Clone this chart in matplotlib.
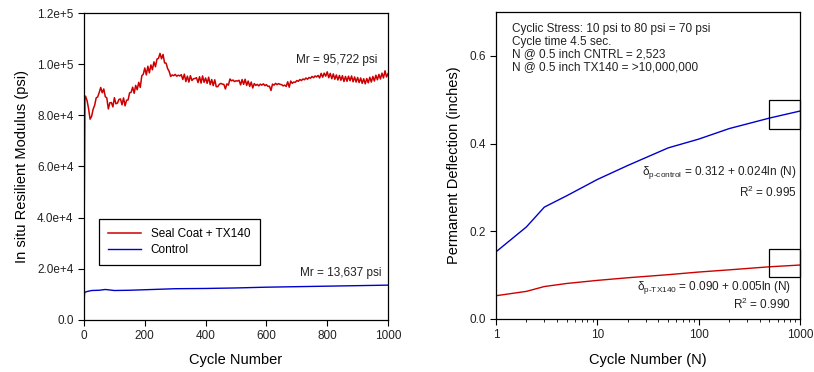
import numpy as np
import matplotlib
matplotlib.use("Agg")
import matplotlib.pyplot as plt
from matplotlib.patches import Rectangle

plt.rcParams['font.family'] = ['Liberation Sans', 'DejaVu Sans']
plt.rcParams['mathtext.fontset'] = 'custom'
plt.rcParams['mathtext.rm'] = 'Liberation Sans'
plt.rcParams['mathtext.it'] = 'Liberation Sans:italic'

# ---------------- Left panel data ----------------
red_start_cycles = [0, 1, 2, 3]
red_start_values = [33.0, 48.0, 70.0, 86.0]  # x1000 psi
red_step = 5
red_values = [  # x1000 psi, cycles 5, 10, ..., 1000
    87.5, 85.8, 82.6, 78.5, 79.6, 82.4, 83.9, 86.8, 87.2, 88.9,
    90.9, 88.8, 90.3, 87.3, 86.8, 82.5, 84.9, 85.0, 83.3, 86.9,
    84.5, 84.8, 86.2, 86.4, 84.1, 86.8, 83.7, 85.9, 86.0, 88.8,
    89.0, 91.0, 88.6, 91.7, 90.0, 92.9, 90.9, 95.4, 96.1, 98.5,
    95.8, 99.2, 96.6, 99.7, 97.8, 100.9, 99.0, 102.0, 102.3, 104.2,
    102.1, 103.8, 100.5, 100.4, 98.3, 97.2, 95.2, 95.8, 95.5, 96.0,
    95.3, 95.7, 95.4, 95.9, 94.0, 96.1, 93.2, 95.3, 93.0, 95.5,
    93.6, 94.3, 94.4, 94.7, 92.8, 95.1, 92.6, 95.4, 92.9, 94.6,
    92.5, 94.9, 92.0, 94.0, 91.6, 93.9, 91.2, 91.2, 92.1, 92.5,
    92.2, 92.1, 90.3, 92.3, 91.8, 94.2, 93.5, 93.8, 93.2, 93.5,
    93.4, 93.7, 91.9, 94.0, 92.1, 94.1, 91.7, 93.4, 91.3, 93.0,
    90.7, 92.4, 91.7, 92.1, 91.5, 92.2, 91.8, 92.3, 91.6, 92.0,
    91.3, 91.4, 89.7, 92.2, 91.8, 92.5, 92.0, 92.4, 92.1, 92.0,
    91.5, 91.8, 91.3, 93.1, 91.0, 93.4, 92.5, 93.0, 92.9, 93.6,
    93.3, 94.0, 93.6, 94.2, 93.9, 94.6, 94.1, 94.8, 94.5, 95.2,
    94.7, 95.4, 95.0, 95.6, 94.6, 96.4, 94.9, 96.5, 95.3, 97.0,
    94.7, 96.4, 94.3, 96.2, 94.1, 95.8, 93.8, 95.6, 93.7, 95.5,
    93.2, 95.2, 93.3, 95.3, 93.5, 95.4, 93.1, 95.0, 93.0, 94.8,
    92.8, 94.6, 92.5, 94.3, 92.3, 94.4, 92.7, 94.9, 93.0, 95.2,
    93.4, 95.7, 93.9, 96.0, 94.2, 96.5, 94.6, 97.4, 95.0, 96.3,
]
blue_cycles = [0, 2, 10, 25, 50, 70, 100, 150, 200, 300, 400, 500, 600, 700, 800, 900, 1000]
blue_values = [6.5, 10.8, 11.1, 11.5, 11.6, 11.9, 11.5, 11.6, 11.8, 12.2, 12.3, 12.5, 12.8, 13.0, 13.2, 13.4, 13.6]
left_xticks = [0, 200, 400, 600, 800, 1000]
left_yticks = [0, 20000, 40000, 60000, 80000, 100000, 120000]
left_yticklabels = ['0.0', '2.0e+4', '4.0e+4', '6.0e+4', '8.0e+4', '1.0e+5', '1.2e+5']

# ---------------- Right panel data ----------------
N_cycles = [1, 2, 3, 5, 10, 20, 50, 100, 200, 500, 1000]
defl_control = [0.153, 0.210, 0.255, 0.281, 0.318, 0.350, 0.390, 0.410, 0.434, 0.458, 0.474]
defl_tx140 = [0.053, 0.063, 0.074, 0.081, 0.088, 0.094, 0.101, 0.107, 0.112, 0.119, 0.123]
right_yticks = [0.0, 0.2, 0.4, 0.6]

RED = '#cc0000'
BLUE = '#0000cc'
TXT = '#222222'

fig = plt.figure(figsize=(8.14, 3.72), dpi=100)
ax1 = fig.add_axes([0.1032, 0.140, 0.3735, 0.825])
ax2 = fig.add_axes([0.6093, 0.1425, 0.3735, 0.8255])

# Left
rv = np.array(red_values) * 1000
rx = red_step * np.arange(1, len(rv) + 1)
assert rx[-1] == 1000, len(rv)
red_x = np.concatenate([red_start_cycles, rx])
red_y = np.concatenate([np.array(red_start_values) * 1000, rv])
ax1.plot(red_x, red_y, color=RED, lw=1.1, label='Seal Coat + TX140')
ax1.plot(blue_cycles, np.array(blue_values) * 1000, color=BLUE, lw=1.0, label='Control')
ax1.set_xlim(0, 1000)
ax1.set_ylim(0, 120000)
ax1.set_xticks(left_xticks)
ax1.set_yticks(left_yticks)
ax1.set_yticklabels(left_yticklabels)
ax1.set_xlabel('Cycle Number', fontsize=10.5, labelpad=8)
ax1.set_ylabel('In situ Resilient Modulus (psi)', fontsize=10.5, labelpad=6)
ax1.text(965, 101500, 'Mr = 95,722 psi', ha='right', va='center', fontsize=8.5, color=TXT)
ax1.text(980, 18400, 'Mr = 13,637 psi', ha='right', va='center', fontsize=8.5, color=TXT)
leg = ax1.legend(loc='upper left', bbox_to_anchor=(0.049, 0.329), borderaxespad=0,
                 fontsize=8.5, fancybox=False, edgecolor='black', framealpha=1,
                 handlelength=2.8, borderpad=0.8, labelspacing=0.3)
leg.get_frame().set_linewidth(0.9)

# Right
ax2.plot(N_cycles, defl_control, color=BLUE, lw=1.0)
ax2.plot(N_cycles, defl_tx140, color=RED, lw=1.0)
ax2.set_xscale('log')
ax2.set_xlim(1, 1000)
ax2.set_ylim(0, 0.70)
ax2.set_yticks(right_yticks)
ax2.set_yticklabels(['0.0', '0.2', '0.4', '0.6'])
ax2.set_xticks([1, 10, 100, 1000])
ax2.set_xticklabels(['1', '10', '100', '1000'])
ax2.set_xlabel('Cycle Number (N)', fontsize=10.5, labelpad=8)
ax2.set_ylabel('Permanent Deflection (inches)', fontsize=10.5, labelpad=6)
info = ['Cyclic Stress: 10 psi to 80 psi = 70 psi', 'Cycle time 4.5 sec.',
        'N @ 0.5 inch CNTRL = 2,523', 'N @ 0.5 inch TX140 = >10,000,000']
ax2.text(0.053, 0.963, '\n'.join(info), transform=ax2.transAxes, ha='left', va='top',
         fontsize=8.5, linespacing=1.05, color=TXT)
ax2.text(0.99, 0.476, '\u03b4$_{\\text{p-control}}$ = 0.312 + 0.024ln (N)', transform=ax2.transAxes,
         ha='right', va='center', fontsize=8.5, color=TXT)
ax2.text(0.99, 0.412, r'R$^2$ = 0.995', transform=ax2.transAxes,
         ha='right', va='center', fontsize=8.5, color=TXT)
ax2.text(0.97, 0.104, '\u03b4$_{\\text{p-TX140}}$ = 0.090 + 0.005ln (N)', transform=ax2.transAxes,
         ha='right', va='center', fontsize=8.5, color=TXT)
ax2.text(0.97, 0.046, r'R$^2$ = 0.990', transform=ax2.transAxes,
         ha='right', va='center', fontsize=8.5, color=TXT)
for (y0, y1) in [(0.434, 0.500), (0.096, 0.160)]:
    ax2.add_patch(Rectangle((495, y0), 1000 - 495, y1 - y0, fill=False,
                            edgecolor='black', lw=0.9, zorder=5, clip_on=False))

for ax in (ax1, ax2):
    for s in ax.spines.values():
        s.set_linewidth(0.9)
        s.set_color('black')
    ax.tick_params(axis='both', which='major', direction='out', length=4, width=0.8,
                   labelsize=8.5, colors='black', labelcolor=TXT)
    ax.tick_params(axis='both', which='minor', direction='out', length=2.5, width=0.6)
ax2.tick_params(axis='y', which='minor', left=False)

fig.savefig('out.png', dpi=100)
